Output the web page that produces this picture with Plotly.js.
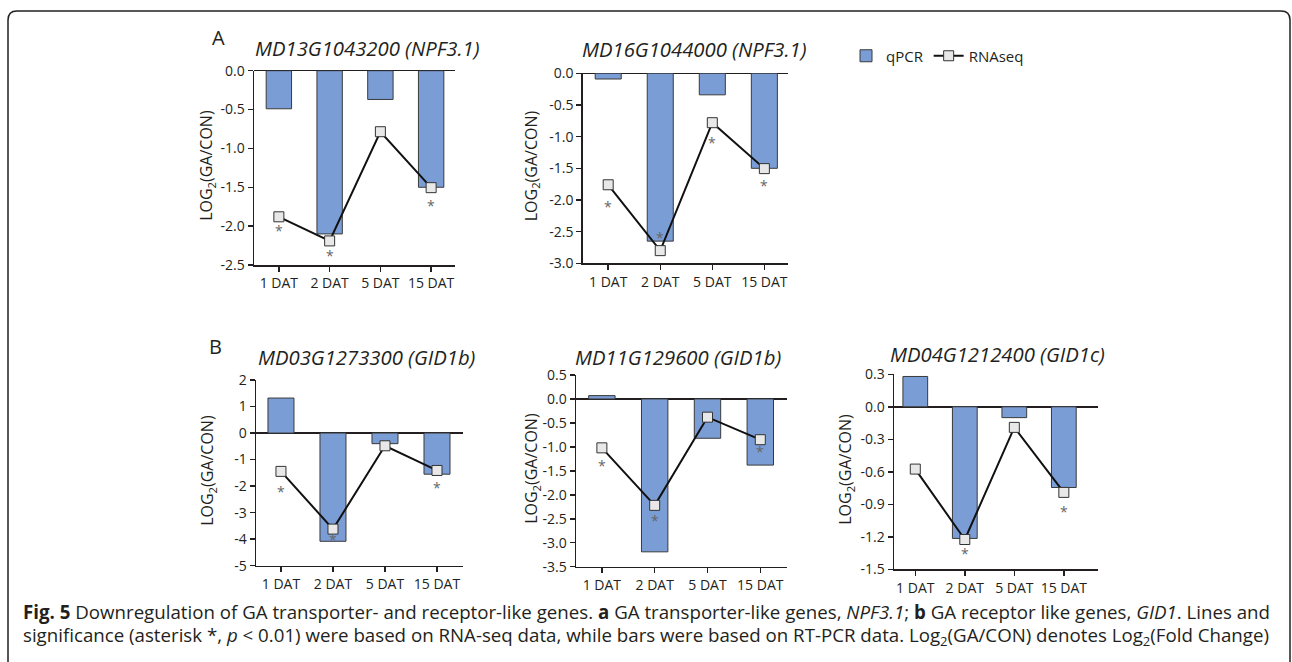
<!DOCTYPE html>
<html>
<head>
<meta charset="utf-8">
<script src="https://cdn.plot.ly/plotly-3.0.1.min.js"></script>
<style>html,body{margin:0;padding:0;background:#fff;}#chart{width:1292px;height:662px;}</style>
</head>
<body>
<div id="chart"></div>
<script>
// ---------- data ----------
const categories = ['1 DAT', '2 DAT', '5 DAT', '15 DAT'];

const titleA1 = 'MD13G1043200 (NPF3.1)';
const qpcrA1 = [-0.49, -2.10, -0.37, -1.50];
const rnaA1  = [-1.88, -2.19, -0.785, -1.505];
const sigA1  = [1, 1, 0, 1];

const titleA2 = 'MD16G1044000 (NPF3.1)';
const qpcrA2 = [-0.09, -2.65, -0.34, -1.50];
const rnaA2  = [-1.76, -2.80, -0.78, -1.505];
const sigA2  = [1, 1, 1, 1];

const titleB1 = 'MD03G1273300 (GID1b)';
const qpcrB1 = [1.32, -4.08, -0.40, -1.55];
const rnaB1  = [-1.445, -3.62, -0.48, -1.41];
const sigB1  = [1, 1, 0, 1];

const titleB2 = 'MD11G129600 (GID1b)';
const qpcrB2 = [0.07, -3.19, -0.82, -1.38];
const rnaB2  = [-1.02, -2.22, -0.38, -0.85];
const sigB2  = [1, 1, 0, 1];

const titleB3 = 'MD04G1212400 (GID1c)';
const qpcrB3 = [0.28, -1.215, -0.10, -0.745];
const rnaB3  = [-0.575, -1.225, -0.19, -0.79];
const sigB3  = [0, 1, 0, 1];

const ticksA1 = [0.0, -0.5, -1.0, -1.5, -2.0, -2.5];
const tickLabelsA1 = ['0.0', '-0.5', '-1.0', '-1.5', '-2.0', '-2.5'];
const ticksA2 = [0.0, -0.5, -1.0, -1.5, -2.0, -2.5, -3.0];
const tickLabelsA2 = ['0.0', '-0.5', '-1.0', '-1.5', '-2.0', '-2.5', '-3.0'];
const ticksB1 = [2, 1, 0, -1, -2, -3, -4, -5];
const tickLabelsB1 = ['2', '1', '0', '-1', '-2', '-3', '-4', '-5'];
const ticksB2 = [0.5, 0.0, -0.5, -1.0, -1.5, -2.0, -2.5, -3.0, -3.5];
const tickLabelsB2 = ['0.5', '0.0', '-0.5', '-1.0', '-1.5', '-2.0', '-2.5', '-3.0', '-3.5'];
const ticksB3 = [0.3, 0.0, -0.3, -0.6, -0.9, -1.2, -1.5];
const tickLabelsB3 = ['0.3', '0.0', '-0.3', '-0.6', '-0.9', '-1.2', '-1.5'];

const yAxisTitle = 'LOG<sub>2</sub>(GA/CON)';
const legendNames = ['qPCR', 'RNAseq'];
const panelLabels = ['A', 'B'];
const captionLine1 = '<b>Fig. 5</b> Downregulation of GA transporter- and receptor-like genes. <b>a</b> GA transporter-like genes, <i>NPF3.1</i>; <b>b</b> GA receptor like genes, <i>GID1</i>. Lines and';
const captionLine2 = 'significance (asterisk *, <i>p</i> &lt; 0.01) were based on RNA-seq data, while bars were based on RT-PCR data. Log<sub>2</sub>(GA/CON) denotes Log<sub>2</sub>(Fold Change)';

// ---------- layout helpers (pixel geometry) ----------
const W = 1292, H = 662;
const px = x => x / W;
const py = y => 1 - y / H;
const FONT = 'Open Sans, Liberation Sans, sans-serif';
const INK = '#231f20';

const panels = [
  {title: titleA1, q: qpcrA1, r: rnaA1, sig: sigA1, tv: ticksA1, tt: tickLabelsA1,
   x0: 254, x1: 455, top: 70.7, bot: 265, xr: [-0.49, 3.47], yr: [-2.5, 0],
   tx: 253, ty: 48, ytx: 207, starOff: [11, 12, 0, 15]},
  {title: titleA2, q: qpcrA2, r: rnaA2, sig: sigA2, tv: ticksA2, tt: tickLabelsA2,
   x0: 582.7, x1: 788.3, top: 73.3, bot: 263.3, xr: [-0.49, 3.46], yr: [-3, 0],
   tx: 580, ty: 49, ytx: 531, starOff: [19, -16, 17, 14]},
  {title: titleB1, q: qpcrB1, r: rnaB1, sig: sigB1, tv: ticksB1, tt: tickLabelsB1,
   x0: 256, x1: 463, top: 380, bot: 565.7, xr: [-0.48, 3.5], yr: [-5, 2],
   tx: 256, ty: 357, ytx: 208, starOff: [17, 7, 0, 14]},
  {title: titleB2, q: qpcrB2, r: rnaB2, sig: sigB2, tv: ticksB2, tt: tickLabelsB2,
   x0: 576, x1: 786.7, top: 375, bot: 566.7, xr: [-0.49, 3.5], yr: [-3.5, 0.5],
   tx: 573, ty: 357, ytx: 532, starOff: [15, 12, 0, 9]},
  {title: titleB3, q: qpcrB3, r: rnaB3, sig: sigB3, tv: ticksB3, tt: tickLabelsB3,
   x0: 894, x1: 1098, top: 374.3, bot: 569.3, xr: [-0.43, 3.69], yr: [-1.5, 0.3],
   tx: 888, ty: 354, ytx: 846, starOff: [0, 11, 0, 16]}
];

const data = [];
const layout = {
  width: W, height: H,
  margin: {l: 0, r: 0, t: 0, b: 0},
  paper_bgcolor: '#ffffff', plot_bgcolor: 'rgba(0,0,0,0)',
  font: {family: FONT, color: INK, size: 14},
  showlegend: true,
  legend: {orientation: 'h', x: px(846), y: py(56), xanchor: 'left', yanchor: 'middle',
           font: {family: FONT, size: 15, color: INK}, bgcolor: 'rgba(0,0,0,0)', itemwidth: 30,
           traceorder: 'normal'},
  annotations: [],
  shapes: [],
  bargap: 0.5
};

panels.forEach((p, i) => {
  const n = i + 1;
  const xa = 'x' + (n === 1 ? '' : n);
  const ya = 'y' + (n === 1 ? '' : n);
  const xKey = 'xaxis' + (n === 1 ? '' : n);
  const yKey = 'yaxis' + (n === 1 ? '' : n);
  data.push({
    type: 'bar', x: categories, y: p.q, name: legendNames[0], width: 0.5,
    xaxis: xa, yaxis: ya, showlegend: i === 0, legendgroup: 'q',
    marker: {color: '#7b9dd5', line: {color: '#3a3a3a', width: 1}},
    hoverinfo: 'skip'
  });
  data.push({
    type: 'scatter', mode: 'lines+markers', x: categories, y: p.r, name: legendNames[1],
    xaxis: xa, yaxis: ya, showlegend: i === 0, legendgroup: 'r',
    line: {color: '#111', width: 2},
    marker: {symbol: 'square', size: 10, color: '#e8e8e8', line: {color: '#333', width: 1}},
    hoverinfo: 'skip', cliponaxis: false
  });
  layout[xKey] = {
    domain: [px(p.x0), px(p.x1)], anchor: ya, type: 'category', range: p.xr,
    showline: true, linecolor: INK, linewidth: 1.5, ticks: 'outside', ticklen: 5,
    tickcolor: INK, tickwidth: 1.5, showgrid: false, zeroline: false,
    tickfont: {family: FONT, size: 14, color: INK}, fixedrange: true
  };
  layout[yKey] = {
    domain: [py(p.bot), py(p.top)], anchor: xa, range: p.yr,
    tickvals: p.tv, ticktext: p.tt,
    showline: true, linecolor: INK, linewidth: 1.5, ticks: 'outside', ticklen: 5,
    tickcolor: INK, tickwidth: 1.5, showgrid: false,
    zeroline: true, zerolinecolor: INK, zerolinewidth: 1.5,
    tickfont: {family: FONT, size: 14, color: INK}, fixedrange: true
  };
  // panel title
  layout.annotations.push({
    text: '<i>' + p.title + '</i>', xref: 'paper', yref: 'paper', x: px(p.tx), y: py(p.ty),
    xanchor: 'left', yanchor: 'middle', showarrow: false,
    font: {family: FONT, size: 20.3, color: INK}
  });
  // y axis title
  layout.annotations.push({
    text: yAxisTitle, xref: 'paper', yref: 'paper', x: px(p.ytx), y: py((p.top + p.bot) / 2 - 2),
    xanchor: 'center', yanchor: 'middle', textangle: -90, showarrow: false,
    font: {family: FONT, size: 16, color: INK}
  });
  // significance asterisks
  p.sig.forEach((s, k) => {
    if (!s) return;
    layout.annotations.push({
      text: '*', xref: xa, yref: ya, x: categories[k], y: p.r[k],
      yshift: -p.starOff[k] - 3, showarrow: false, xanchor: 'center', yanchor: 'middle',
      font: {family: FONT, size: 14, color: '#666'}
    });
  });
});

// panel letters
layout.annotations.push({text: panelLabels[0], xref: 'paper', yref: 'paper', x: px(218), y: py(37),
  xanchor: 'center', yanchor: 'middle', showarrow: false, font: {family: FONT, size: 20, color: INK}});
layout.annotations.push({text: panelLabels[1], xref: 'paper', yref: 'paper', x: px(216), y: py(346),
  xanchor: 'center', yanchor: 'middle', showarrow: false, font: {family: FONT, size: 20, color: INK}});

// caption
layout.annotations.push({text: captionLine1, xref: 'paper', yref: 'paper', x: px(21), y: py(611),
  xanchor: 'left', yanchor: 'middle', showarrow: false, align: 'left',
  font: {family: FONT, size: 18.7, color: INK}});
layout.annotations.push({text: captionLine2, xref: 'paper', yref: 'paper', x: px(21), y: py(636),
  xanchor: 'left', yanchor: 'middle', showarrow: false, align: 'left',
  font: {family: FONT, size: 18.7, color: INK}});

// rounded frame
const r = 9;
layout.shapes.push({
  type: 'path', xref: 'paper', yref: 'paper',
  path: `M ${px(8)},${py(720)} L ${px(8)},${py(11 + r)} Q ${px(8)},${py(11)} ${px(8 + r)},${py(11)} ` +
        `L ${px(1290 - r)},${py(11)} Q ${px(1290)},${py(11)} ${px(1290)},${py(11 + r)} L ${px(1290)},${py(720)}`,
  line: {color: INK, width: 1.5}
});

Plotly.newPlot('chart', data, layout, {displayModeBar: false, staticPlot: true});
</script>
</body>
</html>
